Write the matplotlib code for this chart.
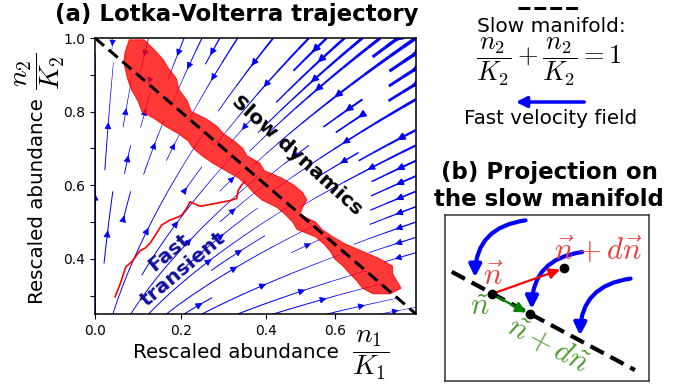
import numpy as np
import matplotlib
matplotlib.use("Agg")
import matplotlib.pyplot as plt
from matplotlib.patches import FancyArrowPatch, Polygon
from matplotlib.lines import Line2D

plt.rcParams['mathtext.fontset'] = 'cm'
plt.rcParams['font.family'] = 'DejaVu Sans'

W, H = 687, 390

# parametri del modello di Lotka-Volterra (tassi di crescita riscalati)
r1 = 1.0
r2 = 0.6

# varieta' lenta n1 + n2 = 1
manifold_x = [0.0, 0.75]
manifold_y = [1.0, 0.25]

# transiente veloce
trans_x = [0.047, 0.058, 0.072, 0.086, 0.105, 0.117, 0.129, 0.144, 0.156, 0.175,
           0.195, 0.203, 0.214, 0.222, 0.245, 0.261, 0.284, 0.315, 0.331, 0.335,
           0.343, 0.350]
trans_y = [0.297, 0.329, 0.378, 0.392, 0.422, 0.429, 0.443, 0.470, 0.492, 0.505,
           0.514, 0.519, 0.537, 0.555, 0.543, 0.546, 0.551, 0.558, 0.564, 0.587,
           0.601, 0.610]

# banda stocastica lungo la varieta' lenta: n2, bordo sinistro e destro in n1
band_y = [0.995, 0.96, 0.94, 0.92, 0.89, 0.86, 0.83, 0.80, 0.78, 0.76, 0.74, 0.72,
          0.70, 0.68, 0.66, 0.64, 0.62, 0.60, 0.58, 0.56, 0.54, 0.52, 0.50, 0.48,
          0.46, 0.44, 0.42, 0.40, 0.38, 0.36, 0.34, 0.32, 0.305]
band_xl = [0.080, 0.070, 0.068, 0.070, 0.076, 0.085, 0.100, 0.110, 0.140, 0.165,
           0.195, 0.218, 0.230, 0.250, 0.275, 0.305, 0.335, 0.355, 0.370, 0.390,
           0.425, 0.445, 0.462, 0.472, 0.515, 0.535, 0.550, 0.560, 0.580, 0.595,
           0.612, 0.625, 0.650]
band_xr = [0.115, 0.145, 0.160, 0.170, 0.190, 0.196, 0.215, 0.225, 0.260, 0.285,
           0.300, 0.325, 0.345, 0.355, 0.385, 0.395, 0.435, 0.465, 0.485, 0.495,
           0.485, 0.478, 0.515, 0.530, 0.555, 0.585, 0.625, 0.665, 0.695, 0.695,
           0.705, 0.715, 0.690]

# tick
xtick_pos = [0.0, 0.2, 0.4, 0.56]
xtick_lab = ['0.0', '0.2', '0.4', '0.6']
ytick_pos = [0.3, 0.4, 0.5, 0.6, 0.7, 0.8, 0.9, 1.0]
ytick_lab = ['', '0.4', '', '0.6', '', '0.8', '', '1.0']

# pannello (b): punti dello schema (coordinate dell'asse)
dash_b_x = [0.033, 0.931]
dash_b_y = [0.658, 0.066]
dot_n = (0.229, 0.524)
dot_ndn = (0.583, 0.679)
dot_tilde = (0.417, 0.402)
blue_start = [(0.408, 0.970), (0.686, 0.779), (0.923, 0.619)]
blue_end = [(0.147, 0.608), (0.425, 0.417), (0.662, 0.257)]


def fig_xy(px, py):
    return px / W, 1 - py / H


fig = plt.figure(figsize=(W / 100, H / 100), dpi=100)

# ---------------- pannello (a) ----------------
ax = fig.add_axes([95 / W, 1 - 314 / H, 321 / W, 276 / H])
n1 = np.linspace(0.0, 0.75, 80)
n2 = np.linspace(0.25, 1.0, 80)
N1, N2 = np.meshgrid(n1, n2)
U = r1 * N1 * (1 - N1 - N2)
V = r2 * N2 * (1 - N1 - N2)
speed = np.hypot(U, V)
lw = 0.3 + 2.3 * speed / speed.max()
ax.streamplot(N1, N2, U, V, color='blue', linewidth=lw, density=0.65,
              arrowsize=1.0)

band = list(zip(band_xl, band_y)) + list(zip(band_xr, band_y))[::-1]
ax.add_patch(Polygon(band, closed=True, facecolor='red', edgecolor='red',
                     alpha=0.78, lw=0.8, zorder=3))
ax.plot(trans_x, trans_y, color='red', lw=1.2, zorder=3)

ax.plot(manifold_x, manifold_y, color='black', lw=2.2,
        linestyle=(0, (3.9, 2.0)), zorder=4)

ax.text(0.472, 0.682, 'Slow dynamics', rotation=-42, fontsize=14.5,
        fontweight='bold', ha='center', va='center', zorder=5)
ax.text(0.189, 0.394, 'Fast\ntransient', rotation=40, fontsize=14.5,
        fontweight='bold', color='#10109c', ha='center', va='center',
        linespacing=1.15, zorder=5)

ax.set_xlim(0, 0.75)
ax.set_ylim(0.25, 1.0)
ax.set_xticks(xtick_pos)
ax.set_xticklabels(xtick_lab)
ax.set_yticks(ytick_pos)
ax.set_yticklabels(ytick_lab)
ax.tick_params(labelsize=10)
for s in ax.spines.values():
    s.set_linewidth(1.1)

fig.text(*fig_xy(236.5, 15), '(a) Lotka-Volterra trajectory', fontsize=16.5,
         fontweight='bold', ha='center', va='center')
fig.text(*fig_xy(236, 353), 'Rescaled abundance', fontsize=14.3,
         ha='center', va='center')
fig.text(*fig_xy(371, 355), r'$\dfrac{n_1}{K_1}$', fontsize=20,
         ha='center', va='center')
fig.text(*fig_xy(38, 201), 'Rescaled abundance', fontsize=14.3, rotation=90,
         ha='center', va='center')
fig.text(*fig_xy(40, 71), r'$\dfrac{n_2}{K_2}$', fontsize=20, rotation=90,
         ha='center', va='center')

# ---------------- legenda ----------------
x0, y0 = fig_xy(518, 7.5)
x1, _ = fig_xy(580, 7.5)
fig.add_artist(Line2D([x0, x1], [y0, y0], transform=fig.transFigure,
                      color='black', lw=2.2, linestyle=(0, (3.9, 1.3))))
fig.text(*fig_xy(551, 26), 'Slow manifold:', fontsize=14.5,
         ha='center', va='center')
fig.text(*fig_xy(549, 62), r'$\dfrac{n_2}{K_2}+\dfrac{n_2}{K_2}=1$',
         fontsize=19, ha='center', va='center')
fig.add_artist(FancyArrowPatch(fig_xy(587, 102), fig_xy(513, 102),
                               transform=fig.transFigure, arrowstyle='-|>',
                               mutation_scale=16, lw=2.5, color='blue'))
fig.text(*fig_xy(551, 118), 'Fast velocity field', fontsize=14.3,
         ha='center', va='center')

fig.text(*fig_xy(549, 186), '(b) Projection on\nthe slow manifold',
         fontsize=16.5, fontweight='bold', ha='center', va='center',
         linespacing=1.2)

# ---------------- pannello (b) ----------------
bx = fig.add_axes([445 / W, 9 / H, 204 / W, 166 / H])
bx.set_xlim(0, 1)
bx.set_ylim(0, 1)
bx.set_xticks([])
bx.set_yticks([])
for s in bx.spines.values():
    s.set_linewidth(1.1)
    s.set_edgecolor('#333333')

bx.plot(dash_b_x, dash_b_y, color='black', lw=3, linestyle=(0, (3.6, 1.8)))
for st, en in zip(blue_start, blue_end):
    bx.add_patch(FancyArrowPatch(st, en, connectionstyle='arc3,rad=0.45',
                                 arrowstyle='-|>', mutation_scale=18, lw=3,
                                 color='blue', zorder=3))
bx.add_patch(FancyArrowPatch(dot_n, dot_ndn, arrowstyle='-|>', mutation_scale=16,
                             lw=1.6, color='red', shrinkA=0, shrinkB=3, zorder=4))
bx.add_patch(FancyArrowPatch(dot_n, dot_tilde, arrowstyle='-|>', mutation_scale=16,
                             lw=1.6, color='green', shrinkA=0, shrinkB=3, zorder=4))
for p in (dot_n, dot_ndn, dot_tilde):
    bx.plot(*p, 'o', color='black', ms=6, zorder=5)

bx.text(0.235, 0.630, r'$\vec{n}$', color='#f03c3c', fontsize=22,
        ha='center', va='center')
bx.text(0.750, 0.785, r'$\vec{n}+d\vec{n}$', color='#f03c3c', fontsize=22,
        ha='center', va='center')
bx.text(0.172, 0.450, r'$\tilde{n}$', color='#4c9c2c', fontsize=22,
        ha='center', va='center')
bx.text(0.505, 0.215, r'$\tilde{n}+d\tilde{n}$', color='#4c9c2c', fontsize=22,
        rotation=-28, ha='center', va='center')

fig.savefig('out.png', dpi=100)
